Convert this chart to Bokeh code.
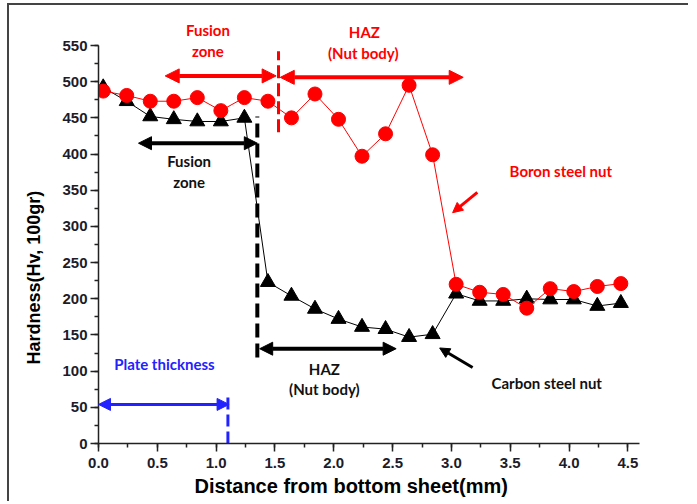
from bokeh.plotting import figure
from bokeh.models import (Range1d, SingleIntervalTicker, Arrow, NormalHead, Label, Title,
                          PrintfTickFormatter)
from bokeh.embed import file_html
from bokeh.resources import INLINE

# ---------------- data ----------------
distance_mm = [0.04, 0.24, 0.44, 0.64, 0.84, 1.04, 1.24, 1.44, 1.64, 1.84, 2.04, 2.24,
               2.44, 2.64, 2.84, 3.04, 3.24, 3.44, 3.64, 3.84, 4.04, 4.24, 4.44]
boron_hv = [487, 481, 473, 473, 478, 460, 478, 473, 450, 483, 448, 397,
            428, 495, 399, 220, 209, 206, 187, 214, 210, 217, 221]
carbon_hv = [492, 473, 452, 448, 445, 445, 450, 223, 204, 186, 172, 161,
             158, 147, 151, 207, 197, 197, 200, 199, 199, 190, 194]

x_title = "Distance from bottom sheet(mm)"
y_title = "Hardness(Hv, 100gr)"

# annotation geometry (data units)
red_fz_arrow = (0.567, 1.51, 508)        # x_start, x_end, y
red_haz_arrow = (1.545, 3.10, 506)
black_fz_arrow = (0.34, 1.35, 415)
black_haz_arrow = (1.37, 2.53, 131)
blue_arrow = (0.0, 1.11, 54)
red_dash = (1.53, 430, 542)              # x, y_start, y_end
black_dash = (1.35, 119, 452)
blue_dash = (1.10, 0, 66)
boron_pointer = (3.22, 347, 3.01, 319)   # x0, y0, x1, y1
carbon_pointer = (3.18, 105, 2.90, 132)

RED = "#ff0000"
BLUE = "#2222ff"
BLACK = "#000000"
TXT_FONT = "Lato"

p = figure(width=688, height=501, output_backend="svg", toolbar_location=None,
           x_range=Range1d(0, 5.015), y_range=Range1d(0, 612.2),
           min_border_left=98, min_border_bottom=58, min_border_top=0, min_border_right=0)
p.outline_line_color = None
p.xgrid.visible = False
p.ygrid.visible = False
p.background_fill_color = None
p.border_fill_color = None
# picture frame: 2px dark line along the top and left edges
p.styles = {"box-shadow": "inset 7px 3px 0 0 #ffffff, inset 9px 5px 0 0 #444444"}

# axes
p.xaxis.ticker = SingleIntervalTicker(interval=0.5, num_minor_ticks=2)
p.yaxis.ticker = SingleIntervalTicker(interval=50, num_minor_ticks=2)
p.xaxis.formatter = PrintfTickFormatter(format="%.1f")
p.xaxis.bounds = (0, 4.6)
p.yaxis.bounds = (0, 550)
for ax in (p.xaxis, p.yaxis):
    ax.major_tick_in = 0
    ax.major_tick_out = 8
    ax.minor_tick_in = 0
    ax.minor_tick_out = 4
    ax.axis_line_color = "#222222"
    ax.axis_line_width = 1.5
    ax.major_tick_line_color = "#222222"
    ax.major_tick_line_width = 1.5
    ax.minor_tick_line_color = "#222222"
    ax.minor_tick_line_width = 1.5
    ax.major_label_text_font = "Liberation Sans"
    ax.major_label_text_font_style = "bold"
    ax.major_label_text_font_size = "15px"
    ax.major_label_text_color = "#1c1c2a"
p.xaxis.major_label_standoff = 6
p.yaxis.major_label_standoff = 3

# axis titles, placed off-centre like the original
p.add_layout(Title(text=x_title, align="left", offset=96, vertical_align="middle",
                   standoff=6, text_font="Liberation Sans", text_font_style="bold",
                   text_font_size="20px", text_color=BLACK), "below")
p.add_layout(Title(text=y_title, align="left", offset=79, vertical_align="middle",
                   standoff=29, text_font="Liberation Sans", text_font_style="bold",
                   text_font_size="18px", text_color=BLACK), "left")

# series
p.line(distance_mm, carbon_hv, line_color=BLACK, line_width=1)
p.scatter(distance_mm, carbon_hv, marker="triangle", size=15, fill_color=BLACK, line_color=BLACK)
p.line(distance_mm, boron_hv, line_color=RED, line_width=1)
p.scatter(distance_mm, boron_hv, marker="circle", size=14, fill_color=RED, line_color=RED)

# dashed vertical lines
p.line([red_dash[0], red_dash[0]], [red_dash[1], red_dash[2]], line_color=RED,
       line_width=3, line_dash="13 5")
p.line([black_dash[0], black_dash[0]], [black_dash[1], black_dash[2]], line_color=BLACK,
       line_width=4, line_dash="14 6")
p.line([blue_dash[0], blue_dash[0]], [blue_dash[1], blue_dash[2]], line_color=BLUE,
       line_width=3, line_dash="12 5")

# double arrows
def double_arrow(spec, color, width, size):
    x0, x1, y = spec
    p.add_layout(Arrow(x_start=x0, y_start=y, x_end=x1, y_end=y, line_color=color,
                       line_width=width,
                       end=NormalHead(size=size, fill_color=color, line_color=color),
                       start=NormalHead(size=size, fill_color=color, line_color=color)))

double_arrow(red_fz_arrow, RED, 4, 14)
double_arrow(red_haz_arrow, RED, 4, 14)
double_arrow(black_fz_arrow, BLACK, 4, 13)
double_arrow(black_haz_arrow, BLACK, 4, 13)
double_arrow(blue_arrow, BLUE, 3, 12)

for (x0, y0, x1, y1), color in ((boron_pointer, RED), (carbon_pointer, BLACK)):
    p.add_layout(Arrow(x_start=x0, y_start=y0, x_end=x1, y_end=y1, line_color=color,
                       line_width=3,
                       end=NormalHead(size=10, fill_color=color, line_color=color)))

# texts
def label(x, y, text, color, size="15px"):
    p.add_layout(Label(x=x, y=y, text=text, text_color=color, text_font=TXT_FONT,
                       text_font_style="bold", text_font_size=size,
                       text_align="center", text_baseline="middle"))

label(0.93, 571, "Fusion", RED)
label(0.93, 543, "zone", RED)
label(2.26, 569, "HAZ", RED)
label(2.25, 540, "(Nut body)", RED)
label(0.77, 390, "Fusion", "#111111")
label(0.77, 362, "zone", "#111111")
label(1.92, 103, "HAZ", "#111111")
label(1.92, 76, "(Nut body)", "#111111")
label(0.56, 110, "Plate thickness", BLUE)
label(3.93, 377, "Boron steel nut", RED)
label(3.81, 83, "Carbon steel nut", "#111111")

open("out.html", "w").write(file_html(p, INLINE))
